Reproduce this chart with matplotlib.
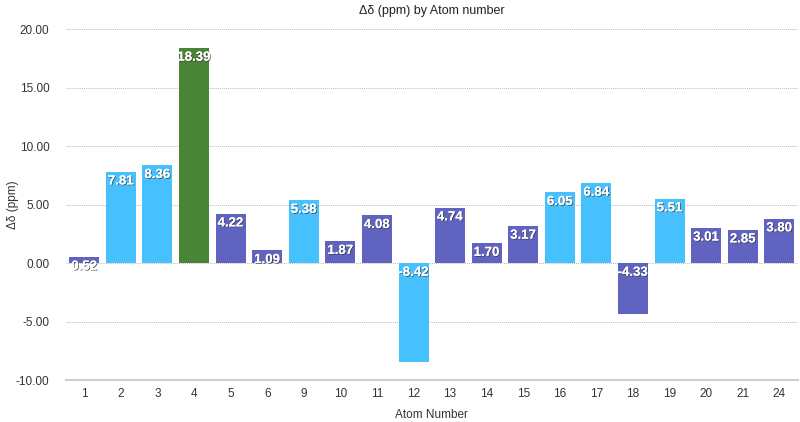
import matplotlib
matplotlib.use("Agg")
import matplotlib.pyplot as plt
import matplotlib.patheffects as pe
import numpy as np

plt.rcParams['font.family'] = ['Liberation Sans', 'DejaVu Sans']

atoms = ["1", "2", "3", "4", "5", "6", "9", "10", "11", "12", "13", "14", "15", "16", "17", "18", "19", "20", "21", "24"]
values = [0.52, 7.81, 8.36, 18.39, 4.22, 1.09, 5.38, 1.87, 4.08, -8.42, 4.74, 1.70, 3.17, 6.05, 6.84, -4.33, 5.51, 3.01, 2.85, 3.80]
groups = ["p", "b", "b", "g", "p", "p", "b", "p", "p", "b", "p", "p", "p", "b", "b", "p", "b", "p", "p", "p"]
palette = {"p": "#6163C0", "b": "#47C1FE", "g": "#4A8436"}

fig = plt.figure(figsize=(8, 4.22), dpi=100)
ax = fig.add_axes([0.0825, 0.0995, 0.9145, 0.8315])

x = np.arange(len(atoms))
colors = [palette[g] for g in groups]
ax.bar(x, values, width=0.82, color=colors, zorder=3)

ax.set_xlim(-0.5, len(atoms) - 0.5)
ax.set_ylim(-10, 20)
ax.set_yticks([-10, -5, 0, 5, 10, 15, 20])
ax.set_yticklabels([f"{v:.2f}" for v in [-10, -5, 0, 5, 10, 15, 20]])
ax.set_xticks(x)
ax.set_xticklabels(atoms)
ax.tick_params(axis='both', length=0, labelsize=8.5, colors='#333333')
ax.tick_params(axis='x', pad=6)
ax.tick_params(axis='y', pad=12)

for y in [-5, 0, 5, 10, 15, 20]:
    ax.axhline(y, color='#bbbbbb', linestyle=(0, (1, 1)), linewidth=0.7, zorder=1)

for s in ['top', 'right', 'left']:
    ax.spines[s].set_visible(False)
ax.spines['bottom'].set_color('#d0d0d0')
ax.spines['bottom'].set_linewidth(1.5)

for xi, v in zip(x, values):
    ypos = v if v >= 0 else 0
    t = ax.annotate(f"{v:.2f}", (xi, ypos), xytext=(0, -7), textcoords='offset points',
                    ha='center', va='center', color='white', fontsize=9.5, fontweight='bold', zorder=5)
    t.set_path_effects([pe.withSimplePatchShadow(offset=(0.6, -0.6), shadow_rgbFace='#333333', alpha=0.8), pe.Normal()])

ax.set_title("Δδ (ppm) by Atom number", fontsize=9, color='#222222', pad=11)
ax.set_xlabel("Atom Number", fontsize=8.5, color='#333333')
ax.xaxis.set_label_coords(0.5, -0.082)
ax.set_ylabel("Δδ (ppm)", fontsize=8.5, color='#333333')
ax.yaxis.set_label_coords(-0.064, 0.5)

fig.savefig("out.png", dpi=100)
